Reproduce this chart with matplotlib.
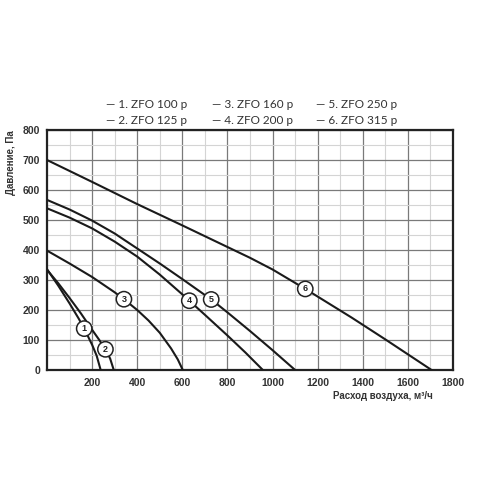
import numpy as np
import matplotlib.pyplot as plt
from matplotlib.ticker import MultipleLocator

# Fan curves: air flow (m3/h) vs pressure (Pa)
names = ['1. ZFO 100 p', '2. ZFO 125 p', '3. ZFO 160 p',
         '4. ZFO 200 p', '5. ZFO 250 p', '6. ZFO 315 p']

flow_1 = [0, 50, 100, 140, 165, 200, 220, 238]
pres_1 = [336, 281, 222, 172, 138, 84, 48, 0]

flow_2 = [0, 50, 100, 150, 200, 230, 259, 280, 296]
pres_2 = [334, 289, 240, 189, 134, 102, 69, 38, 0]

flow_3 = [0, 100, 200, 300, 341, 400, 450, 500, 550, 580, 602]
pres_3 = [398, 355, 310, 259, 236, 200, 165, 124, 72, 35, 0]

flow_4 = [0, 100, 200, 300, 400, 500, 600, 700, 800, 880, 957]
pres_4 = [539, 508, 472, 428, 378, 318, 252, 184, 115, 58, 0]

flow_5 = [0, 100, 200, 300, 400, 500, 600, 730, 800, 900, 1000, 1100]
pres_5 = [567, 535, 498, 455, 405, 355, 303, 234, 192, 130, 66, 0]

flow_6 = [0, 200, 400, 600, 800, 900, 1000, 1150, 1350, 1500, 1705]
pres_6 = [700, 627, 553, 482, 410, 374, 335, 268, 175, 102, 0]

flows = [flow_1, flow_2, flow_3, flow_4, flow_5, flow_6]
pressures = [pres_1, pres_2, pres_3, pres_4, pres_5, pres_6]

# where the numbered circles sit along each curve
label_flow = [165, 259, 341, 631, 728, 1145]

x_ticks = [200, 400, 600, 800, 1000, 1200, 1400, 1600, 1800]
y_ticks = [0, 100, 200, 300, 400, 500, 600, 700, 800]


def main():
    fig = plt.figure(figsize=(5, 5), dpi=100)
    ax = fig.add_axes([0.094, 0.26, 0.812, 0.48])

    ax.set_xlim(0, 1800)
    ax.set_ylim(0, 800)

    # grid: dark major, light minor
    ax.xaxis.set_minor_locator(MultipleLocator(100))
    ax.yaxis.set_minor_locator(MultipleLocator(50))
    ax.set_xticks(x_ticks)
    ax.set_yticks(y_ticks)
    ax.grid(True, which='major', color='#7a7a7a', linewidth=0.9)
    ax.grid(True, which='minor', color='#d4d4d4', linewidth=0.8)
    ax.set_axisbelow(True)

    for s in ax.spines.values():
        s.set_linewidth(1.6)
        s.set_color('#222222')

    ax.tick_params(which='both', length=0)
    ax.tick_params(axis='x', pad=6)
    ax.tick_params(axis='y', pad=5)
    for lab in ax.get_xticklabels() + ax.get_yticklabels():
        lab.set_fontweight('bold')
        lab.set_fontsize(7.5)
        lab.set_color('#333333')
        lab.set_family('Liberation Sans')

    # curves with numbered circles
    for i, (fx, py) in enumerate(zip(flows, pressures)):
        ax.plot(fx, py, color='#1a1a1a', linewidth=1.5, zorder=3,
                solid_joinstyle='round')
        lx = label_flow[i]
        ly = np.interp(lx, fx, py)
        ax.text(lx, ly, str(i + 1), ha='center', va='center',
                fontsize=6.5, fontweight='bold', family='Liberation Sans',
                color='#222222', zorder=5,
                bbox=dict(boxstyle='circle,pad=0.35', facecolor='white',
                          edgecolor='#222222', linewidth=1.1))

    # axis titles
    fig.text(0.866, 0.208, 'Расход воздуха, м³/ч', ha='right', va='center',
             fontsize=7, fontweight='bold', color='#333333',
             family='Liberation Sans')
    fig.text(0.022, 0.74, 'Давление, Па', ha='center', va='top',
             rotation=90, fontsize=7, fontweight='bold', color='#333333',
             family='Liberation Sans')

    # legend as text above the plot
    col_x = [0.213, 0.424, 0.632]
    row_y = [0.790, 0.760]
    for i, name in enumerate(names):
        fig.text(col_x[i // 2], row_y[i % 2], '— ' + name, ha='left',
                 va='center', fontsize=8.5, color='#333333', family='Lato')

    fig.savefig('out.png', dpi=100)


if __name__ == "__main__":
    main()
